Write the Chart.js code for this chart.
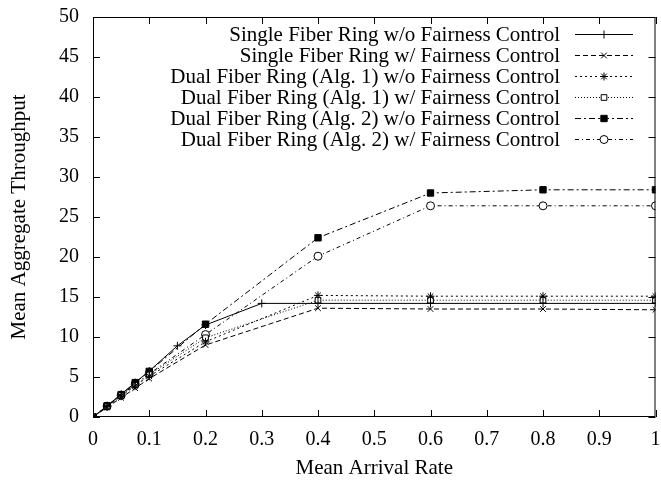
<!DOCTYPE html>
<html>
<head>
<meta charset="utf-8">
<script src="https://cdn.jsdelivr.net/npm/chart.js@4.4.1/dist/chart.umd.min.js"></script>
<style>
  body { margin: 0; background: #fff; }
  #wrap { width: 661px; height: 481px; }
</style>
</head>
<body>
<div id="wrap"><canvas id="chart" width="661" height="481"></canvas></div>
<script>
// arrival rates used by most runs
const rates = [0, 0.025, 0.05, 0.075, 0.1, 0.2, 0.4, 0.6, 0.8, 1.0];
// single ring w/o fairness has two extra samples (0.15, 0.3)
const ratesSingle = [0, 0.025, 0.05, 0.075, 0.1, 0.15, 0.2, 0.3, 0.4, 0.6, 0.8, 1.0];

const singleNoFair = [0, 1.4, 2.85, 4.3, 5.75, 8.9, 11.5, 14.2, 14.2, 14.2, 14.2, 14.2];
const singleFair = [0, 1.2, 2.4, 3.6, 4.8, 9.0, 13.6, 13.5, 13.5, 13.4];
const dual1NoFair = [0, 1.3, 2.6, 3.9, 5.1, 9.4, 15.2, 15.1, 15.1, 15.1];
const dual1Fair = [0, 1.3, 2.7, 4.0, 5.3, 9.9, 14.6, 14.6, 14.6, 14.6];
const dual2NoFair = [0, 1.4, 2.8, 4.3, 5.7, 11.6, 22.4, 28.0, 28.4, 28.4];
const dual2Fair = [0, 1.35, 2.7, 4.1, 5.4, 10.3, 20.1, 26.4, 26.4, 26.4];

const labels = [
    "Single Fiber Ring w/o Fairness Control",
    "Single Fiber Ring w/ Fairness Control",
    "Dual Fiber Ring (Alg. 1) w/o Fairness Control",
    "Dual Fiber Ring (Alg. 1) w/ Fairness Control",
    "Dual Fiber Ring (Alg. 2) w/o Fairness Control",
    "Dual Fiber Ring (Alg. 2) w/ Fairness Control"
];

function pairs (xs, ys) {
    return ys.map((y, i) => ({ x: xs[i], y: y }));
}

function series (label, xs, ys, dash, style, fill, radius) {
    return {
        label: label,
        data: pairs(xs, ys),
        borderColor: "#000",
        borderWidth: 1,
        borderDash: dash,
        pointStyle: style,
        pointRadius: radius,
        pointBorderWidth: 1,
        pointBorderColor: "#000",
        pointBackgroundColor: fill,
        tension: 0,
        fill: false
    };
}

// legend drawn gnuplot style: text right-aligned, sample line after it
const sideLegend = {
    id: "sideLegend",
    afterDraw (chart) {
        let ctx = chart.ctx;
        let textRight = 560, lineLeft = 575, lineRight = 633;
        chart.data.datasets.forEach((ds, i) => {
            let y = 34 + i * 21;
            ctx.save();
            ctx.font = "normal 21px 'Liberation Serif', 'Times New Roman', serif";
            ctx.fillStyle = "#000";
            ctx.textAlign = "right";
            ctx.textBaseline = "middle";
            ctx.fillText(ds.label, textRight, y + 1);
            ctx.strokeStyle = "#000";
            ctx.lineWidth = 1;
            ctx.setLineDash(ds.borderDash);
            ctx.beginPath();
            ctx.moveTo(lineLeft, y + 0.5);
            ctx.lineTo(lineRight, y + 0.5);
            ctx.stroke();
            ctx.setLineDash([]);
            ctx.fillStyle = ds.pointBackgroundColor;
            Chart.helpers.drawPoint(ctx, {
                pointStyle: ds.pointStyle,
                radius: ds.pointRadius,
                rotation: 0,
                borderWidth: 1
            }, (lineLeft + lineRight) / 2, y + 0.5);
            ctx.restore();
        });
    }
};

// box round the plot with inward ticks on all four sides
const frameTicks = {
    id: "frameTicks",
    afterDraw (chart) {
        let ctx = chart.ctx;
        let a = chart.chartArea;
        let len = 7;
        ctx.save();
        ctx.strokeStyle = "#000";
        ctx.lineWidth = 1;
        ctx.strokeRect(a.left + 0.5, a.top + 0.5, a.right - a.left - 1, a.bottom - a.top - 1);
        ctx.beginPath();
        chart.scales.x.ticks.forEach(t => {
            let px = Math.round(chart.scales.x.getPixelForValue(t.value)) + 0.5;
            ctx.moveTo(px, a.bottom);
            ctx.lineTo(px, a.bottom - len);
            ctx.moveTo(px, a.top);
            ctx.lineTo(px, a.top + len);
        });
        chart.scales.y.ticks.forEach(t => {
            let py = Math.round(chart.scales.y.getPixelForValue(t.value)) + 0.5;
            ctx.moveTo(a.left, py);
            ctx.lineTo(a.left + len, py);
            ctx.moveTo(a.right, py);
            ctx.lineTo(a.right - len, py);
        });
        ctx.stroke();
        ctx.restore();
    }
};

Chart.defaults.font.family = "'Liberation Serif', 'Times New Roman', serif";
Chart.defaults.color = "#000";

new Chart(document.getElementById("chart"), {
    type: "line",
    data: {
        datasets: [
            series(labels[0], ratesSingle, singleNoFair, [], "cross", "#000", 4),
            series(labels[1], rates, singleFair, [5, 3], "crossRot", "#000", 4),
            series(labels[2], rates, dual1NoFair, [2, 3], "star", "#000", 4),
            series(labels[3], rates, dual1Fair, [1, 2], "rect", "#fff", 4),
            series(labels[4], rates, dual2NoFair, [6, 3, 2, 3], "rect", "#000", 4.5),
            series(labels[5], rates, dual2Fair, [4, 3, 1, 3], "circle", "#fff", 4)
        ]
    },
    options: {
        responsive: false,
        animation: false,
        layout: { padding: { top: 17, right: 3, left: 0, bottom: 0 } },
        plugins: {
            legend: { display: false },
            tooltip: { enabled: false }
        },
        scales: {
            x: {
                type: "linear",
                min: 0,
                max: 1,
                grid: { display: false },
                border: { display: false },
                ticks: {
                    stepSize: 0.1,
                    font: { size: 20 },
                    padding: 3,
                    maxRotation: 0,
                    callback: v => Math.round(v * 10) / 10
                },
                title: {
                    display: true,
                    text: "Mean Arrival Rate",
                    font: { size: 21 },
                    padding: { top: 10, bottom: 0 }
                },
                afterFit: s => {
                    s.height = 64;
                    s.paddingLeft = 0;
                    s.paddingRight = 0;
                }
            },
            y: {
                min: 0,
                max: 50,
                grid: { display: false },
                border: { display: false },
                ticks: {
                    stepSize: 5,
                    font: { size: 20 },
                    padding: 6
                },
                title: {
                    display: true,
                    text: "Mean Aggregate Throughput",
                    font: { size: 21 },
                    padding: { top: 7, bottom: 0 }
                },
                afterFit: s => {
                    s.width = 93;
                    s.paddingTop = 0;
                    s.paddingBottom = 0;
                }
            }
        }
    },
    plugins: [sideLegend, frameTicks]
});
</script>
</body>
</html>
